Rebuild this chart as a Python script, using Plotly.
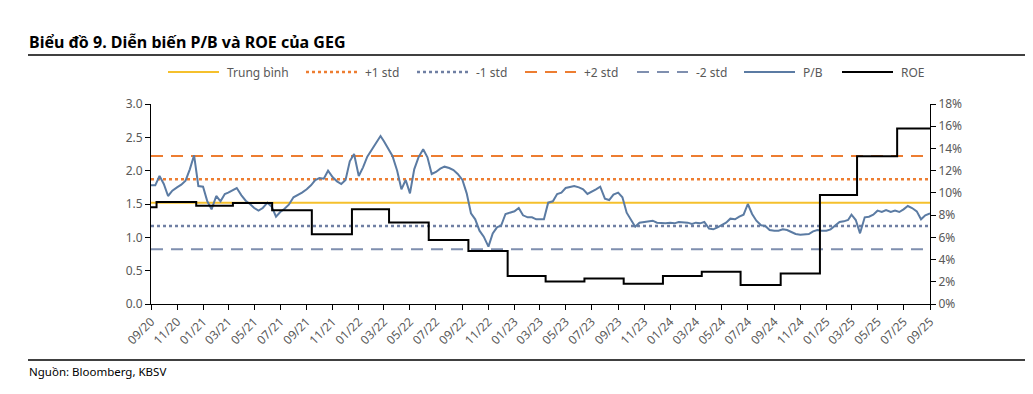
import plotly.graph_objects as go

# ---------------- data ----------------
pb_dates = [
    "2020-09-01", "2020-09-11", "2020-09-21", "2020-10-01", "2020-10-11", "2020-10-21",
    "2020-11-01", "2020-11-11", "2020-11-21", "2020-12-01", "2020-12-11", "2020-12-21",
    "2021-01-01", "2021-01-11", "2021-01-21", "2021-02-01", "2021-02-11", "2021-02-21",
    "2021-03-01", "2021-03-11", "2021-03-21", "2021-04-01", "2021-04-11", "2021-04-21",
    "2021-05-01", "2021-05-11", "2021-05-21", "2021-06-01", "2021-06-11", "2021-06-21",
    "2021-07-01", "2021-07-11", "2021-07-21", "2021-08-01", "2021-08-11", "2021-08-21",
    "2021-09-01", "2021-09-11", "2021-09-21", "2021-10-01", "2021-10-11", "2021-10-21",
    "2021-11-01", "2021-11-11", "2021-11-21", "2021-12-01", "2021-12-11", "2021-12-21",
    "2022-01-01", "2022-01-11", "2022-01-21", "2022-02-01", "2022-02-11", "2022-02-21",
    "2022-03-01", "2022-03-11", "2022-03-21", "2022-04-01", "2022-04-11", "2022-04-21",
    "2022-05-01", "2022-05-11", "2022-05-21", "2022-06-01", "2022-06-11", "2022-06-21",
    "2022-07-01", "2022-07-11", "2022-07-21", "2022-08-01", "2022-08-11", "2022-08-21",
    "2022-09-01", "2022-09-11", "2022-09-21", "2022-10-01", "2022-10-11", "2022-10-21",
    "2022-11-01", "2022-11-11", "2022-11-21", "2022-12-01", "2022-12-11", "2022-12-21",
    "2023-01-01", "2023-01-11", "2023-01-21", "2023-02-01", "2023-02-11", "2023-02-21",
    "2023-03-01", "2023-03-11", "2023-03-21", "2023-04-01", "2023-04-11", "2023-04-21",
    "2023-05-01", "2023-05-11", "2023-05-21", "2023-06-01", "2023-06-11", "2023-06-21",
    "2023-07-01", "2023-07-11", "2023-07-21", "2023-08-01", "2023-08-11", "2023-08-21",
    "2023-09-01", "2023-09-11", "2023-09-21", "2023-10-01", "2023-10-11", "2023-10-21",
    "2023-11-01", "2023-11-11", "2023-11-21", "2023-12-01", "2023-12-11", "2023-12-21",
    "2024-01-01", "2024-01-11", "2024-01-21", "2024-02-01", "2024-02-11", "2024-02-21",
    "2024-03-01", "2024-03-11", "2024-03-21", "2024-04-01", "2024-04-11", "2024-04-21",
    "2024-05-01", "2024-05-11", "2024-05-21", "2024-06-01", "2024-06-11", "2024-06-21",
    "2024-07-01", "2024-07-11", "2024-07-21", "2024-08-01", "2024-08-11", "2024-08-21",
    "2024-09-01", "2024-09-11", "2024-09-21", "2024-10-01", "2024-10-11", "2024-10-21",
    "2024-11-01", "2024-11-11", "2024-11-21", "2024-12-01", "2024-12-11", "2024-12-21",
    "2025-01-01", "2025-01-11", "2025-01-21", "2025-02-01", "2025-02-11", "2025-02-21",
    "2025-03-01", "2025-03-11", "2025-03-21", "2025-04-01", "2025-04-11", "2025-04-21",
    "2025-05-01", "2025-05-11", "2025-05-21", "2025-06-01", "2025-06-11", "2025-06-21",
    "2025-07-01", "2025-07-11", "2025-07-21", "2025-08-01", "2025-08-11", "2025-08-21",
    "2025-09-01",
]

pb_values = [
    1.78, 1.78, 1.92, 1.80, 1.62, 1.70,
    1.75, 1.79, 1.85, 2.02, 2.23, 1.77,
    1.76, 1.54, 1.42, 1.62, 1.54, 1.65,
    1.67, 1.70, 1.74, 1.63, 1.55, 1.50,
    1.44, 1.40, 1.44, 1.52, 1.46, 1.31,
    1.38, 1.43, 1.49, 1.60, 1.63, 1.67,
    1.72, 1.78, 1.86, 1.89, 1.88, 2.00,
    1.90, 1.84, 1.80, 1.86, 2.14, 2.25,
    1.92, 2.05, 2.21, 2.32, 2.42, 2.52,
    2.44, 2.33, 2.22, 2.00, 1.72, 1.86,
    1.66, 2.02, 2.20, 2.32, 2.20, 1.95,
    1.98, 2.03, 2.06, 2.04, 2.01, 1.95,
    1.86, 1.66, 1.36, 1.27, 1.10, 1.01,
    0.86, 1.06, 1.15, 1.18, 1.35, 1.37,
    1.39, 1.44, 1.33, 1.30, 1.30, 1.27,
    1.27, 1.27, 1.52, 1.54, 1.65, 1.67,
    1.74, 1.75, 1.77, 1.75, 1.72, 1.65,
    1.68, 1.72, 1.76, 1.58, 1.56, 1.64,
    1.67, 1.60, 1.37, 1.26, 1.16, 1.22,
    1.23, 1.24, 1.25, 1.22, 1.21, 1.21,
    1.22, 1.21, 1.23, 1.23, 1.22, 1.20,
    1.22, 1.21, 1.23, 1.13, 1.12, 1.15,
    1.19, 1.22, 1.28, 1.27, 1.31, 1.34,
    1.50, 1.35, 1.25, 1.18, 1.17, 1.11,
    1.10, 1.10, 1.12, 1.11, 1.08, 1.05,
    1.04, 1.05, 1.05, 1.09, 1.11, 1.10,
    1.10, 1.12, 1.17, 1.23, 1.24, 1.26,
    1.34, 1.26, 1.06, 1.30, 1.31, 1.34,
    1.40, 1.38, 1.41, 1.38, 1.40, 1.38,
    1.42, 1.47, 1.44, 1.39, 1.27, 1.33,
    1.36,
]

roe_dates = [
    "2020-09-01", "2020-09-14", "2020-12-16", "2021-03-12", "2021-06-12",
    "2021-09-13", "2021-12-16", "2022-03-13", "2022-06-14", "2022-09-15",
    "2022-12-16", "2023-03-15", "2023-06-14", "2023-09-14", "2023-12-15",
    "2024-03-15", "2024-06-14", "2024-09-16", "2024-12-17", "2025-03-14",
    "2025-06-16", "2025-09-01",
]
roe_values = [
    0.087, 0.0917, 0.0885, 0.0908, 0.0843,
    0.0628, 0.0852, 0.0733, 0.0577, 0.0478,
    0.0251, 0.0203, 0.0230, 0.0182, 0.0251,
    0.0290, 0.0170, 0.0275, 0.0980, 0.1330,
    0.1580, 0.1580,
]

level_names = ["Trung bình", "+1 std", "-1 std", "+2 std", "-2 std"]
level_values = [1.52, 1.87, 1.17, 2.22, 0.82]

x_start, x_end = "2020-09-01", "2025-09-01"

# ---------------- styles ----------------
legend_names = ["Trung bình", "+1 std", "-1 std", "+2 std", "-2 std", "P/B", "ROE"]
legend_colors = ["#F5C02C", "#ED7D31", "#6F7FA3", "#ED7D31", "#7F8FAF", "#5B7BA3", "#000000"]
legend_dashes = ["solid", "dot", "dot", "12px,8px", "12px,8px", "solid", "solid"]
legend_widths = [2, 2.5, 2.5, 2, 2, 2, 2]
legend_x_px = [168, 306, 417, 525, 637, 744, 842]   # left of each legend symbol (page px)
legend_y_px = 72

font_family = "Noto Sans, Open Sans, sans-serif"
grey = "#595959"

# plot area in page pixels (page has an 8px body margin)
PX_L, PX_R, PX_T, PX_B = 151, 930, 104, 304
def px2paper_x(px):
    return (px - PX_L) / (PX_R - PX_L)
def px2paper_y(py):
    return (PX_B - py) / (PX_B - PX_T)

# ---------------- figure ----------------
fig = go.Figure()

for i, (name, val) in enumerate(zip(level_names, level_values)):
    fig.add_trace(go.Scatter(
        x=[x_start, x_end], y=[val, val], mode="lines", name=name,
        line=dict(color=legend_colors[i], dash=legend_dashes[i], width=legend_widths[i]),
        hoverinfo="skip",
    ))

fig.add_trace(go.Scatter(
    x=pb_dates, y=pb_values, mode="lines", name="P/B",
    line=dict(color=legend_colors[5], width=2),
))

fig.add_trace(go.Scatter(
    x=roe_dates, y=roe_values, mode="lines", name="ROE", yaxis="y2",
    line=dict(color="black", width=2, shape="hv"),
))

axis_common = dict(
    showgrid=False, zeroline=False, showline=True, linecolor="black", linewidth=1,
    ticks="outside", tickcolor="black", ticklen=5, automargin=False,
    tickfont=dict(family=font_family, size=12, color=grey),
)

shapes = [
    dict(type="line", xref="paper", yref="paper",
         x0=px2paper_x(28), x1=px2paper_x(1040), y0=px2paper_y(55), y1=px2paper_y(55),
         line=dict(color="black", width=1.5)),
    dict(type="line", xref="paper", yref="paper",
         x0=px2paper_x(28), x1=px2paper_x(1040), y0=px2paper_y(360), y1=px2paper_y(360),
         line=dict(color="black", width=1.5)),
]
annotations = [
    dict(text="<b>Biểu đồ 9. Diễn biến P/B và ROE của GEG</b>",
         xref="paper", yref="paper", x=px2paper_x(27), y=px2paper_y(42),
         xanchor="left", yanchor="middle", showarrow=False,
         font=dict(family=font_family, size=16, color="black")),
    dict(text="Nguồn: Bloomberg, KBSV",
         xref="paper", yref="paper", x=px2paper_x(27), y=px2paper_y(371),
         xanchor="left", yanchor="middle", showarrow=False,
         font=dict(family=font_family, size=11.5, color="black")),
]
for i, name in enumerate(legend_names):
    x0 = legend_x_px[i]
    shapes.append(dict(
        type="line", xref="paper", yref="paper",
        x0=px2paper_x(x0), x1=px2paper_x(x0 + 51),
        y0=px2paper_y(legend_y_px), y1=px2paper_y(legend_y_px),
        line=dict(color=legend_colors[i], dash=legend_dashes[i], width=legend_widths[i]),
    ))
    annotations.append(dict(
        text=name, xref="paper", yref="paper",
        x=px2paper_x(x0 + 57), y=px2paper_y(legend_y_px),
        xanchor="left", yanchor="middle", showarrow=False,
        font=dict(family=font_family, size=12, color=grey),
    ))

fig.update_layout(
    width=1025, height=386,
    margin=dict(l=PX_L - 8, r=1025 - (PX_R - 8), t=PX_T - 8, b=386 - (PX_B - 8)),
    paper_bgcolor="white", plot_bgcolor="white",
    font=dict(family=font_family, color=grey, size=12),
    showlegend=False,
    xaxis=dict(
        type="date", range=[x_start, x_end],
        tick0="2020-09-01", dtick="M2", tickformat="%m/%y", tickangle=-45,
        **axis_common,
    ),
    yaxis=dict(range=[0, 3], dtick=0.5, tickformat=".1f", **axis_common),
    yaxis2=dict(range=[0, 0.18], dtick=0.02, tickformat=".0%", overlaying="y",
                side="right", **axis_common),
    annotations=annotations,
    shapes=shapes,
)

fig.write_html("out.html")
